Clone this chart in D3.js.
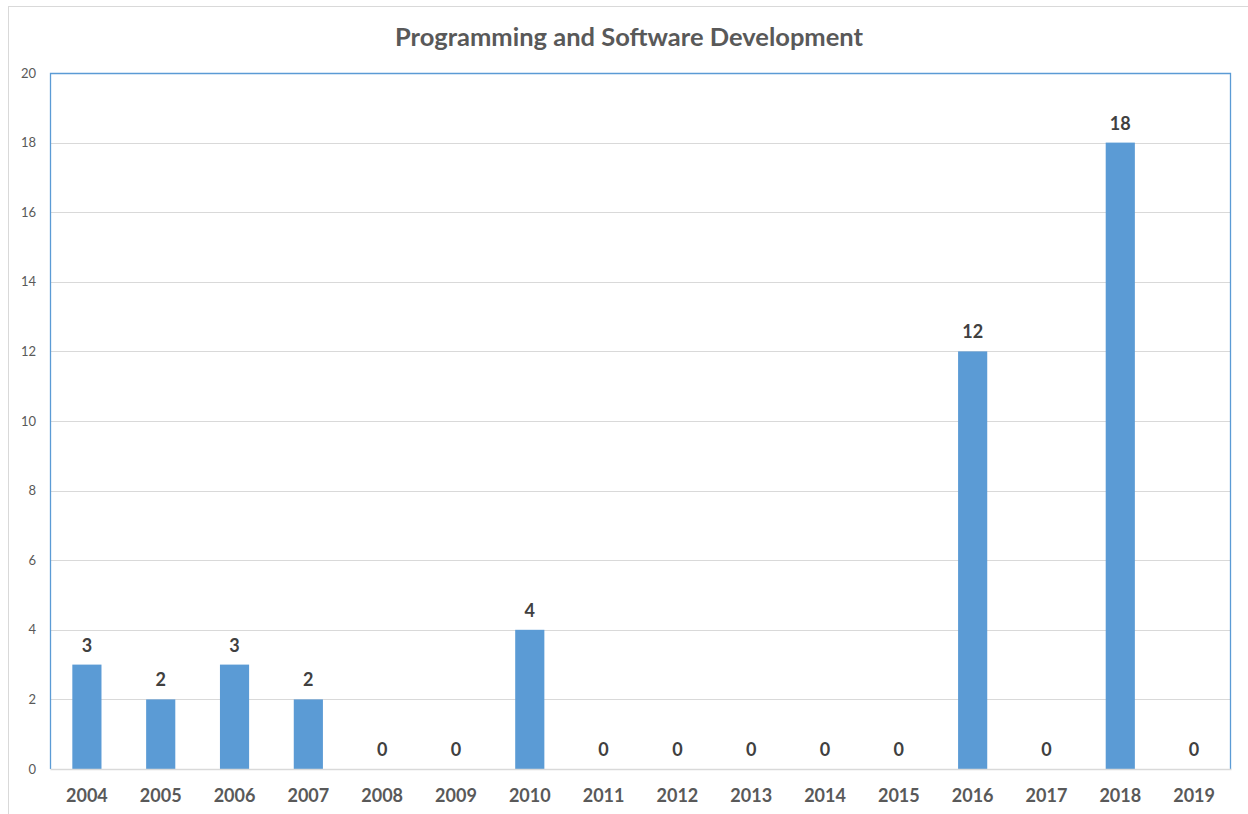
<!DOCTYPE html>
<html>
<head>
<meta charset="utf-8">
<script src="https://cdn.jsdelivr.net/npm/d3@7"></script>
<style>
  html, body { margin: 0; padding: 0; background: #fff; }
  svg { display: block; font-family: Lato, "Open Sans", sans-serif; }
</style>
</head>
<body>
<svg id="chart" width="1248" height="814"></svg>
<script>
// Publications per year in the category
const years = ["2004","2005","2006","2007","2008","2009","2010","2011","2012","2013","2014","2015","2016","2017","2018","2019"];
const counts = [3, 2, 3, 2, 0, 0, 4, 0, 0, 0, 0, 0, 12, 0, 18, 0];
const yTicks = [0, 2, 4, 6, 8, 10, 12, 14, 16, 18, 20];
const chartTitle = "Programming and Software Development";

const svg = d3.select("#chart");
const plot = { left: 50, top: 73, right: 1231, bottom: 769 };

// outer chart frame
svg.append("rect")
  .attr("x", 8.5).attr("y", 6.5)
  .attr("width", 1240).attr("height", 820)
  .attr("fill", "#fff").attr("stroke", "#d9d9d9").attr("stroke-width", 1);

const x = d3.scaleBand().domain(years).range([plot.left, plot.right]).paddingInner(0.605).paddingOuter(0.3025);
const y = d3.scaleLinear().domain([0, 20]).range([plot.bottom, plot.top]);

// gridlines
svg.append("g").selectAll("line").data(yTicks.filter(t => t > 0 && t < 20)).join("line")
  .attr("x1", plot.left).attr("x2", plot.right)
  .attr("y1", d => Math.round(y(d)) + 0.5).attr("y2", d => Math.round(y(d)) + 0.5)
  .attr("stroke", "#d9d9d9").attr("stroke-width", 1);

// y axis labels
const yAxis = d3.axisLeft(y).tickValues(yTicks).tickSize(0).tickPadding(14);
const gy = svg.append("g").attr("transform", `translate(${plot.left},0)`).call(yAxis);
gy.select(".domain").remove();
gy.selectAll("text").attr("fill", "#595959").style("font-size", "13px").style("font-family", "Lato, sans-serif");

// bars
svg.append("g").selectAll("rect").data(years).join("rect")
  .attr("x", d => x(d))
  .attr("width", x.bandwidth())
  .attr("y", (d, i) => y(counts[i]))
  .attr("height", (d, i) => y(0) - y(counts[i]))
  .attr("fill", "#5b9bd5");

// plot area frame (top, left, right)
svg.append("path")
  .attr("d", `M${plot.left + 0.5},${plot.bottom}V${plot.top + 0.5}H${plot.right - 0.5}V${plot.bottom}`)
  .attr("fill", "none").attr("stroke", "#5b9bd5").attr("stroke-width", 1.3);

// x axis
const xAxis = d3.axisBottom(x).tickSize(0).tickPadding(20);
const gx = svg.append("g").attr("transform", `translate(0,${plot.bottom})`).call(xAxis);
gx.select(".domain").attr("stroke", "#d9d9d9").attr("stroke-width", 1.3);
gx.selectAll("text").attr("fill", "#595959").style("font-size", "18px").style("font-weight", "bold").style("font-family", "Lato, sans-serif");

// value labels
svg.append("g").selectAll("text").data(years).join("text")
  .attr("x", d => x(d) + x.bandwidth() / 2)
  .attr("y", (d, i) => y(counts[i]) - 13)
  .attr("text-anchor", "middle")
  .attr("fill", "#404040")
  .style("font-size", "18px").style("font-weight", "bold")
  .text((d, i) => counts[i]);

// title
svg.append("text")
  .attr("x", 629).attr("y", 46)
  .attr("text-anchor", "middle")
  .attr("fill", "#595959")
  .style("font-size", "25.5px").style("font-weight", "bold")
  .text(chartTitle);
</script>
</body>
</html>
